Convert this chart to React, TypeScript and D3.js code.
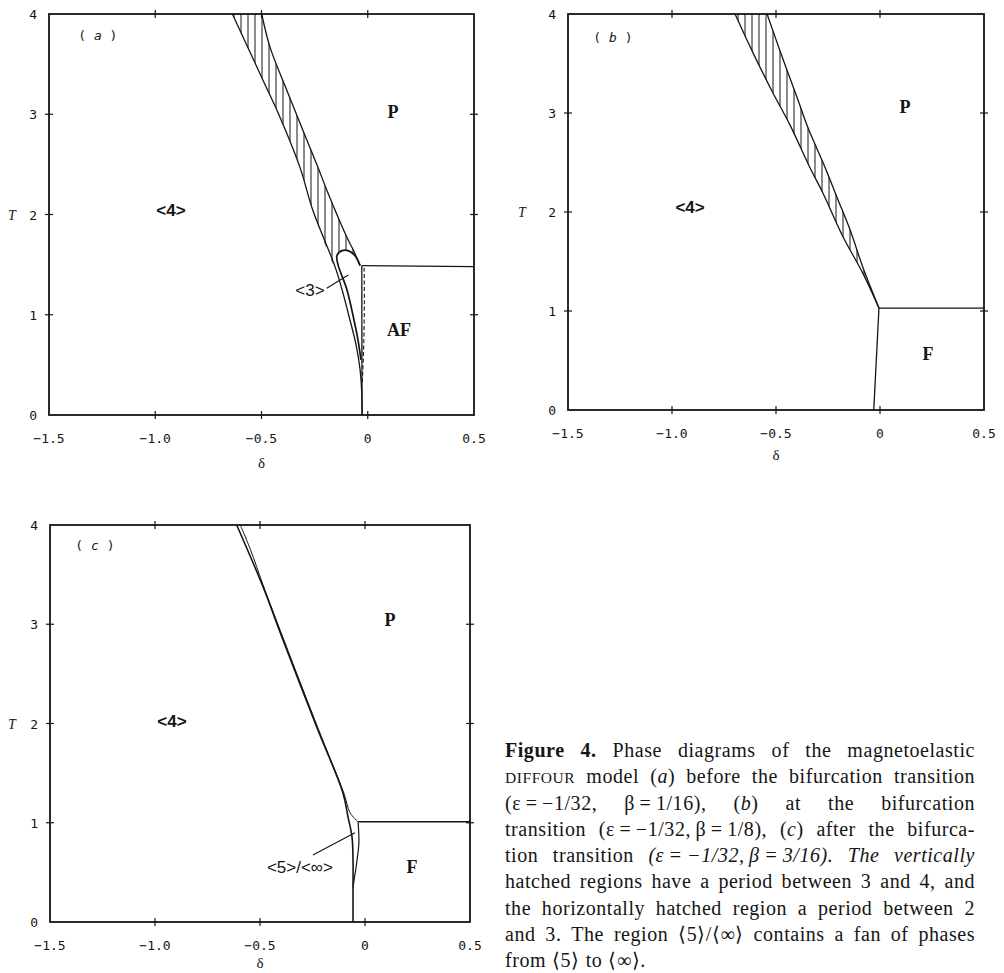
import React, { useMemo } from 'react';
import * as d3 from 'd3';

// ---- axis data ----
const xDomain: [number, number] = [-1.5, 0.5];
const yDomain: [number, number] = [0, 4];
const xTicks = [-1.5, -1.0, -0.5, 0, 0.5];
const xTickLabels = ['−1.5', '−1.0', '−0.5', '0', '0.5'];
const yTicks = [0, 1, 2, 3, 4];
const yTickLabels = ['0', '1', '2', '3', '4'];

type Pt = [number, number]; // [delta, T]

// ---- panel (a): before the bifurcation transition ----
const aHatchLeft: Pt[] = [
	[-0.637, 4.0], [-0.493, 3.34], [-0.413, 2.97], [-0.319, 2.47], [-0.258, 2.04], [-0.154, 1.48],
	[-0.121, 1.25], [-0.084, 0.95], [-0.055, 0.7], [-0.036, 0.45], [-0.027, 0.15], [-0.027, 0],
];
const aHatchRight: Pt[] = [
	[-0.499, 4.0], [-0.46, 3.67], [-0.381, 3.24], [-0.311, 2.87], [-0.234, 2.47], [-0.192, 2.24],
	[-0.093, 1.75], [-0.069, 1.65], [-0.036, 1.49],
];
const aLoop: Pt[] = [
	[-0.036, 1.49], [-0.06, 1.59], [-0.093, 1.64], [-0.121, 1.64], [-0.145, 1.59], [-0.14, 1.5],
	[-0.098, 1.25], [-0.065, 0.95], [-0.046, 0.75], [-0.032, 0.55],
];
const aHatchBottom: Pt[] = [
	[-0.154, 1.48], [-0.145, 1.59], [-0.121, 1.64], [-0.093, 1.64], [-0.06, 1.59], [-0.036, 1.49],
];
const aVertical: Pt[] = [[-0.028, 1.49], [-0.027, 0]];
const aAFBoundary: Pt[] = [[-0.028, 1.49], [0.5, 1.48]];
const aStrip: Pt[] = [[-0.017, 1.47], [-0.016, 1.1], [-0.019, 0.7], [-0.026, 0.3]];
const aPointer: Pt[] = [[-0.193, 1.264], [-0.092, 1.396]];

// ---- panel (b): at the bifurcation transition ----
const bHatchLeft: Pt[] = [
	[-0.697, 4.0], [-0.611, 3.61], [-0.514, 3.2], [-0.433, 2.88], [-0.337, 2.45], [-0.274, 2.19],
	[-0.178, 1.75], [-0.082, 1.38], [-0.005, 1.03],
];
const bHatchRight: Pt[] = [
	[-0.543, 4.0], [-0.471, 3.57], [-0.399, 3.16], [-0.346, 2.85], [-0.264, 2.45], [-0.207, 2.15],
	[-0.144, 1.82], [-0.082, 1.44], [-0.005, 1.03],
];
const bVertical: Pt[] = [[-0.005, 1.03], [-0.03, 0]];
const bFBoundary: Pt[] = [[-0.005, 1.03], [0.5, 1.03]];

// ---- panel (c): after the bifurcation transition ----
const cLeft: Pt[] = [
	[-0.611, 4.0], [-0.49, 3.4], [-0.39, 2.84], [-0.229, 1.96], [-0.105, 1.3], [-0.081, 1.06],
	[-0.062, 0.86], [-0.057, 0.62], [-0.057, 0.35], [-0.057, 0],
];
const cRight: Pt[] = [
	[-0.594, 4.0], [-0.545, 3.75], [-0.486, 3.4], [-0.386, 2.84], [-0.225, 1.96], [-0.101, 1.3],
	[-0.071, 1.1], [-0.033, 1.01],
];
const cFanRight: Pt[] = [[-0.033, 1.01], [-0.029, 0.8], [-0.038, 0.62], [-0.052, 0.42], [-0.057, 0.35]];
const cFBoundary: Pt[] = [[-0.033, 1.01], [0.5, 1.01]];
const cPointer: Pt[] = [[-0.248, 0.675], [-0.048, 0.9]];

// ---- region labels ----
type Label = { text: string; at: Pt; kind: 'phase' | 'period' | 'big' | 'tag' };
const aLabels: Label[] = [
	{ text: 'P', at: [0.119, 3.02], kind: 'phase' },
	{ text: '<4>', at: [-0.926, 2.04], kind: 'period' },
	{ text: 'AF', at: [0.147, 0.85], kind: 'phase' },
	{ text: '<3>', at: [-0.272, 1.25], kind: 'big' },
	{ text: 'a', at: [-1.27, 3.79], kind: 'tag' },
];
const bLabels: Label[] = [
	{ text: 'P', at: [0.12, 3.06], kind: 'phase' },
	{ text: '<4>', at: [-0.913, 2.05], kind: 'period' },
	{ text: 'F', at: [0.231, 0.57], kind: 'phase' },
	{ text: 'b', at: [-1.284, 3.77], kind: 'tag' },
];
const cLabels: Label[] = [
	{ text: 'P', at: [0.119, 3.04], kind: 'phase' },
	{ text: '<4>', at: [-0.919, 2.03], kind: 'period' },
	{ text: 'F', at: [0.224, 0.55], kind: 'phase' },
	{ text: '<5>/<∞>', at: [-0.31, 0.55], kind: 'big' },
	{ text: 'c', at: [-1.286, 3.8], kind: 'tag' },
];

// ---- caption (\u2009 keeps formula pieces together) ----
const captionLines = [
	'**Figure** **4.** Phase diagrams of the magnetoelastic',
	'^DIFFOUR^ model (*a*) before the bifurcation transition',
	'(ε\u2009=\u2009−1/32, β\u2009=\u20091/16), (*b*) at the bifurcation',
	'transition (ε\u2009=\u2009−1/32,\u2009β\u2009=\u20091/8), (*c*) after the bifurca-',
	'tion transition *(ε\u2009=\u2009−1/32,\u2009β\u2009=\u20093/16).* *The* *vertically*',
	'hatched regions have a period between 3 and 4, and',
	'the horizontally hatched region a period between 2',
	'and 3. The region ⟨5⟩/⟨∞⟩ contains a fan of phases',
	'from ⟨5⟩ to ⟨∞⟩.',
];

const INK = '#151515';
const TICK_FONT = '"DejaVu Sans Mono", monospace';
const SERIF = '"Liberation Serif", "Times New Roman", serif';
const SANS = '"Liberation Sans", Arial, sans-serif';

type Curve = { pts: Pt[]; smooth?: boolean; dash?: string; w?: number };
type Hatch = { poly: Pt[]; dir: 'v' | 'h' };
type PanelSpec = {
	id: string;
	left: number; right: number; top: number; bottom: number;
	tX: number;
	deltaDy: number;
	curves: Curve[];
	hatches: Hatch[];
	labels: Label[];
};

const panels: PanelSpec[] = [
	{
		id: 'a', left: 49, right: 474, top: 14, bottom: 415, tX: 12, deltaDy: 53,
		hatches: [{ poly: [...aHatchLeft.slice(0, 6), ...aHatchBottom.slice(1), ...aHatchRight.slice().reverse()], dir: 'v' }],
		curves: [
			{ pts: aHatchLeft, smooth: true },
			{ pts: aHatchRight, smooth: true },
			{ pts: aLoop, smooth: true, w: 1.7 },
			{ pts: aVertical },
			{ pts: aAFBoundary },
			{ pts: aStrip, smooth: true, dash: '4 2.5', w: 1.1 },
			{ pts: aPointer, w: 1.1 },
		],
		labels: aLabels,
	},
	{
		id: 'b', left: 568, right: 984, top: 14, bottom: 410, tX: 522, deltaDy: 50,
		hatches: [{ poly: [...bHatchLeft, ...bHatchRight.slice().reverse()], dir: 'v' }],
		curves: [
			{ pts: bHatchLeft, smooth: true },
			{ pts: bHatchRight, smooth: true },
			{ pts: bVertical },
			{ pts: bFBoundary },
		],
		labels: bLabels,
	},
	{
		id: 'c', left: 50, right: 470, top: 525, bottom: 922, tX: 12, deltaDy: 46,
		hatches: [],
		curves: [
			{ pts: cLeft, smooth: true, w: 1.6 },
			{ pts: cRight, smooth: true, w: 1.0 },
			{ pts: cFanRight, smooth: true, w: 1.2 },
			{ pts: cFBoundary },
			{ pts: cPointer, w: 1.1 },
		],
		labels: cLabels,
	},
];

const Panel = ({ spec }: { spec: PanelSpec }) => {
	const x = d3.scaleLinear().domain(xDomain).range([spec.left, spec.right]);
	const y = d3.scaleLinear().domain(yDomain).range([spec.bottom, spec.top]);
	const smooth = d3.line<Pt>().x((d) => x(d[0])).y((d) => y(d[1])).curve(d3.curveCatmullRom.alpha(0.5));
	const straight = d3.line<Pt>().x((d) => x(d[0])).y((d) => y(d[1]));
	const innerX = xTicks.slice(1, -1);
	const innerY = yTicks.slice(1, -1);

	return (
		<g>
			<defs>
				<pattern id={`vh-${spec.id}`} patternUnits='userSpaceOnUse' width={7} height={10}>
					<line x1={3} x2={3} y1={0} y2={10} stroke={INK} strokeWidth={1} />
				</pattern>
			</defs>

			{/* hatched regions */}
			{spec.hatches.map((h, i) => (
				<path key={'h' + i} d={smooth(h.poly) + 'Z'} fill={`url(#vh-${spec.id})`} stroke='none' />
			))}

			{/* phase boundaries */}
			{spec.curves.map((c, i) => (
				<path
					key={'c' + i}
					d={(c.smooth ? smooth(c.pts) : straight(c.pts)) || ''}
					fill='none'
					stroke={INK}
					strokeWidth={c.w ?? 1.3}
					strokeDasharray={c.dash}
					strokeLinejoin='round'
				/>
			))}

			{/* frame */}
			<rect
				x={spec.left}
				y={spec.top}
				width={spec.right - spec.left}
				height={spec.bottom - spec.top}
				fill='none'
				stroke={INK}
				strokeWidth={1.8}
			/>

			{/* ticks on all four sides */}
			{innerX.map((v) => (
				<g key={'tx' + v}>
					<line x1={x(v)} x2={x(v)} y1={spec.bottom - 4} y2={spec.bottom + 4} stroke={INK} strokeWidth={1.2} />
					<line x1={x(v)} x2={x(v)} y1={spec.top - 4} y2={spec.top + 4} stroke={INK} strokeWidth={1.2} />
				</g>
			))}
			{innerY.map((v) => (
				<g key={'ty' + v}>
					<line x1={spec.left - 4} x2={spec.left + 4} y1={y(v)} y2={y(v)} stroke={INK} strokeWidth={1.2} />
					<line x1={spec.right - 4} x2={spec.right + 4} y1={y(v)} y2={y(v)} stroke={INK} strokeWidth={1.2} />
				</g>
			))}

			{/* tick labels */}
			{xTicks.map((v, i) => (
				<text
					key={'lx' + v}
					x={x(v)}
					y={spec.bottom + 28}
					textAnchor='middle'
					fontFamily={TICK_FONT}
					fontSize={13}
					fill={INK}
				>
					{xTickLabels[i]}
				</text>
			))}
			{yTicks.map((v, i) => (
				<text
					key={'ly' + v}
					x={spec.left - 12}
					y={y(v) + 5}
					textAnchor='end'
					fontFamily={TICK_FONT}
					fontSize={13}
					fill={INK}
				>
					{yTickLabels[i]}
				</text>
			))}

			{/* axis titles */}
			<text
				x={(spec.left + spec.right) / 2}
				y={spec.bottom + spec.deltaDy}
				textAnchor='middle'
				fontFamily={SERIF}
				fontSize={15}
				fill={INK}
			>
				δ
			</text>
			<text x={spec.tX} y={y(2) + 5} textAnchor='middle' fontFamily={SERIF} fontStyle='italic' fontSize={14} fill={INK}>
				T
			</text>

			{/* region labels */}
			{spec.labels.map((l, i) => {
				const lx = x(l.at[0]);
				const ly = y(l.at[1]);
				if (l.kind === 'tag') {
					return (
						<text key={'r' + i} x={lx} y={ly + 5} textAnchor='middle' fontFamily={TICK_FONT} fontSize={13} fill={INK}>
							{'( '}
							<tspan fontStyle='italic'>{l.text}</tspan>
							{' )'}
						</text>
					);
				}
				if (l.kind === 'phase') {
					return (
						<text key={'r' + i} x={lx} y={ly + 6} textAnchor='middle' fontFamily={SERIF} fontWeight='bold' fontSize={18} fill={INK}>
							{l.text}
						</text>
					);
				}
				return (
					<text
						key={'r' + i}
						x={lx}
						y={ly + 6}
						textAnchor='middle'
						fontFamily={SANS}
						fontWeight={l.kind === 'period' ? 'bold' : 'normal'}
						fontSize={17}
						fill={INK}
					>
						{l.text}
					</text>
				);
			})}
		</g>
	);
};

type Seg = { t: string; b?: boolean; i?: boolean; sc?: boolean };
const CAP_SIZE = 20;
const SC_SIZE = 15.5;
const CAP_TRACK = 0.55;

const parseWord = (w: string): Seg[] =>
	w
		.split(/(\*\*[^*]+\*\*|\*[^*]+\*|\^[^^]+\^)/)
		.filter(Boolean)
		.map((p) => {
			if (p.startsWith('**')) return { t: p.slice(2, -2), b: true };
			if (p.startsWith('*')) return { t: p.slice(1, -1), i: true };
			if (p.startsWith('^')) return { t: p.slice(1, -1), sc: true };
			return { t: p };
		});

const segFont = (s: Seg) =>
	`${s.i ? 'italic ' : ''}${s.b ? 'bold ' : ''}${s.sc ? SC_SIZE : CAP_SIZE}px ${SERIF}`;

const Caption = ({ x0, x1, y0, lineH }: { x0: number; x1: number; y0: number; lineH: number }) => {
	const laid = useMemo(() => {
		const ctx = document.createElement('canvas').getContext('2d');
		const measure = (s: Seg) => {
			const extra = Array.from(s.t).length * CAP_TRACK;
			if (!ctx) return s.t.length * CAP_SIZE * 0.45 + extra;
			ctx.font = segFont(s);
			return ctx.measureText(s.t).width + extra;
		};
		return captionLines.map((line, li) => {
			const words = line.split(' ').map(parseWord);
			const widths = words.map((w) => d3.sum(w, measure));
			const total = d3.sum(widths);
			const last = li === captionLines.length - 1;
			const gap = last || words.length < 2 ? CAP_SIZE * 0.3 : (x1 - x0 - total) / (words.length - 1);
			let cx = x0;
			return words.map((w, wi) => {
				const pos = cx;
				cx += widths[wi] + gap;
				return { segs: w, x: pos };
			});
		});
	}, [x0, x1]);

	return (
		<g fill={INK} fontFamily={SERIF} fontSize={CAP_SIZE} letterSpacing={CAP_TRACK}>
			{laid.map((words, li) =>
				words.map((w, wi) => (
					<text key={li + '-' + wi} x={w.x} y={y0 + li * lineH}>
						{w.segs.map((s, si) => (
							<tspan
								key={si}
								fontStyle={s.i ? 'italic' : undefined}
								fontWeight={s.b ? 'bold' : undefined}
								fontSize={s.sc ? SC_SIZE : undefined}
							>
								{s.t}
							</tspan>
						))}
					</text>
				))
			)}
		</g>
	);
};

export default function App() {
	return (
		<svg
			width={1004}
			height={973}
			style={{ position: 'absolute', left: 0, top: 0, display: 'block', background: '#fff' }}
		>
			<rect x={0} y={0} width={1004} height={973} fill='#fff' />
			{panels.map((p) => (
				<Panel key={p.id} spec={p} />
			))}
			<Caption x0={505} x1={975} y0={757} lineH={26.25} />
		</svg>
	);
}
